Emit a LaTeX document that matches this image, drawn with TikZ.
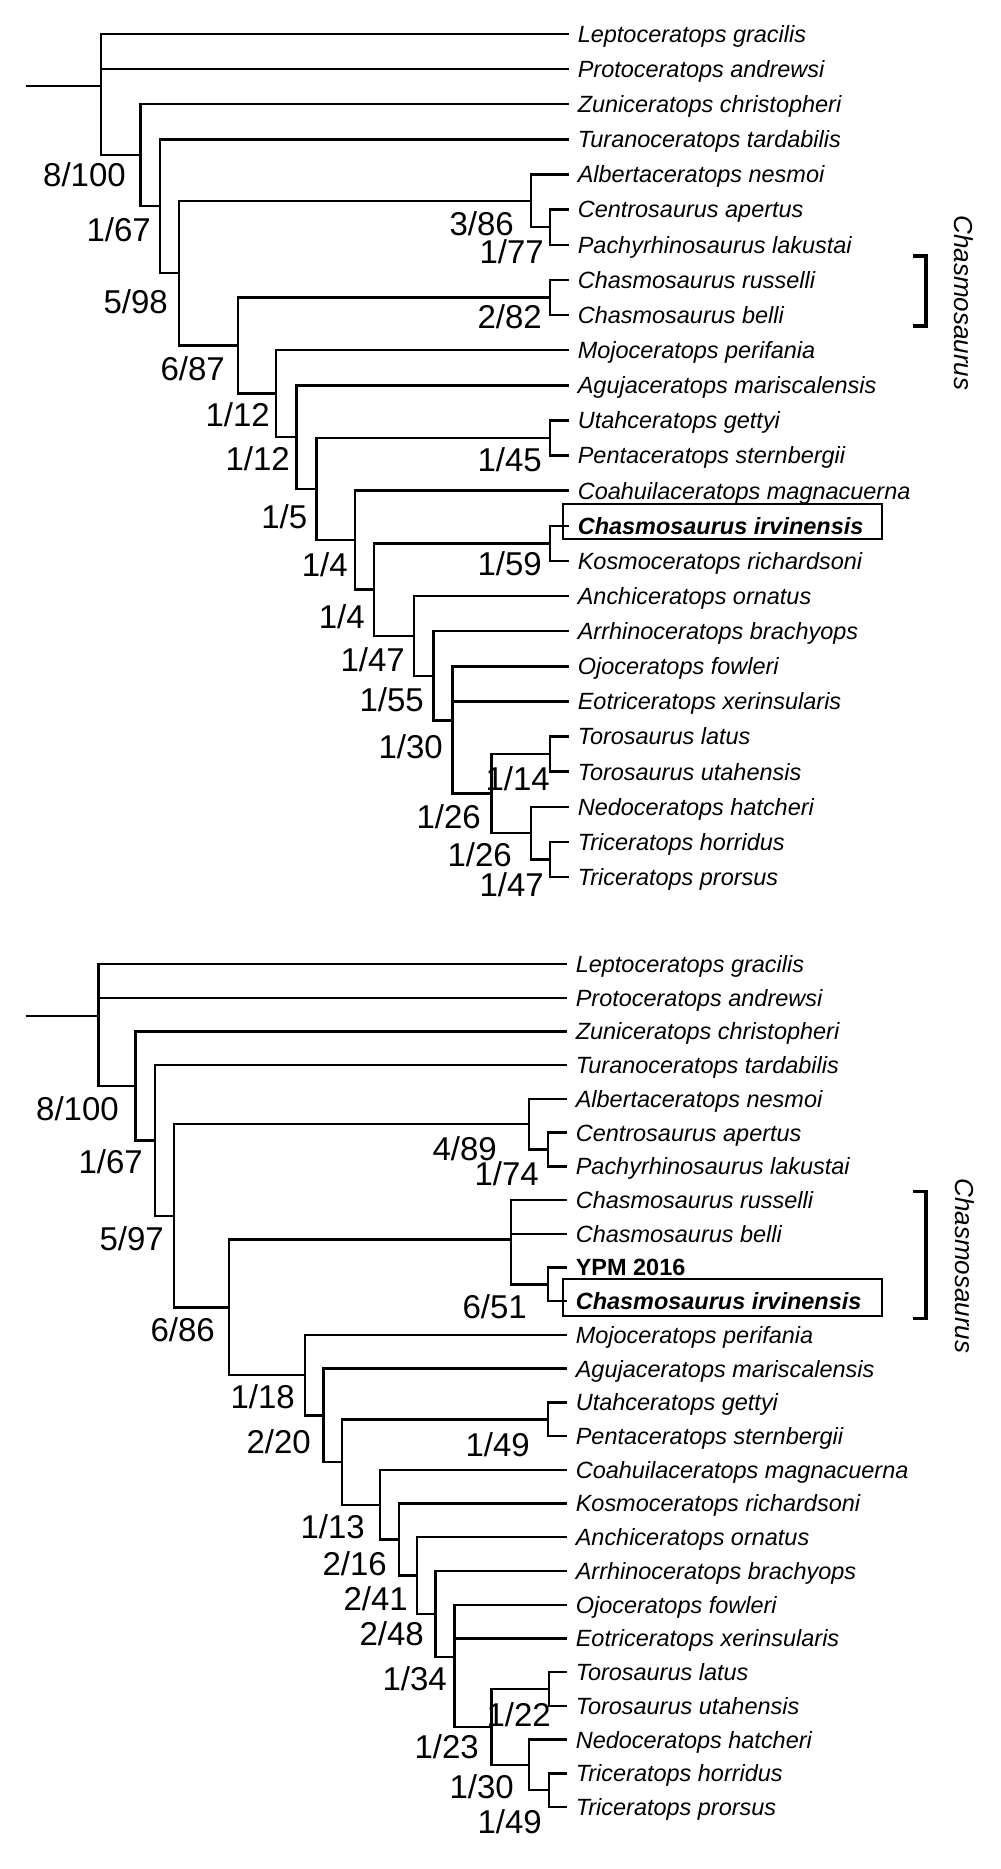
\documentclass[tikz,border=0pt]{standalone}
\usepackage{fontspec}
\setmainfont{Liberation Sans}
\usetikzlibrary{positioning}

\begin{document}
\begin{tikzpicture}[
    x=0.75pt, y=-0.75pt,
    branch/.style={line width=1.8pt},
    taxon/.style={anchor=west, inner xsep=6.4pt, inner ysep=0pt, text height=12.6pt, text depth=0pt, font=\fontsize{17.6}{20}\selectfont\itshape},
    taxonbold/.style={taxon, font=\fontsize{17.6}{20}\selectfont\bfseries\itshape},
    specimen/.style={taxon, font=\fontsize{17.6}{20}\selectfont\bfseries},
    support/.style={anchor=north east, inner sep=0pt, text height=17.7pt, text depth=0pt, font=\fontsize{24.75}{28}\selectfont},
    clade/.style={rotate=-90, inner sep=0pt, font=\fontsize{19.5}{22}\selectfont\itshape},
    bracket/.style={line width=2.4pt},
    hlbox/.style={line width=1.5pt}
]
\useasboundingbox (0,0) rectangle (1000,1869);

% upper tree
\node[taxon] (tLep) at (569,34) {Leptoceratops gracilis};
\node[taxon] (tPro) at (569,69.1) {Protoceratops andrewsi};
\node[taxon] (tZun) at (569,104.3) {Zuniceratops christopheri};
\node[taxon] (tTur) at (569,139.4) {Turanoceratops tardabilis};
\node[taxon] (tAlb) at (569,174.5) {Albertaceratops nesmoi};
\node[taxon] (tCen) at (569,209.6) {Centrosaurus apertus};
\node[taxon] (tPac) at (569,244.8) {Pachyrhinosaurus lakustai};
\node[taxon] (tRus) at (569,279.9) {Chasmosaurus russelli};
\node[taxon] (tBel) at (569,315) {Chasmosaurus belli};
\node[taxon] (tMoj) at (569,350.1) {Mojoceratops perifania};
\node[taxon] (tAgu) at (569,385.3) {Agujaceratops mariscalensis};
\node[taxon] (tUta) at (569,420.4) {Utahceratops gettyi};
\node[taxon] (tPen) at (569,455.5) {Pentaceratops sternbergii};
\node[taxon] (tCoa) at (569,490.6) {Coahuilaceratops magnacuerna};
\node[taxonbold] (tIrv) at (569,525.8) {Chasmosaurus irvinensis};
\node[taxon] (tKos) at (569,560.9) {Kosmoceratops richardsoni};
\node[taxon] (tAnc) at (569,596) {Anchiceratops ornatus};
\node[taxon] (tArr) at (569,631.1) {Arrhinoceratops brachyops};
\node[taxon] (tOjo) at (569,666.3) {Ojoceratops fowleri};
\node[taxon] (tEot) at (569,701.4) {Eotriceratops xerinsularis};
\node[taxon] (tTla) at (569,736.5) {Torosaurus latus};
\node[taxon] (tTut) at (569,771.6) {Torosaurus utahensis};
\node[taxon] (tNed) at (569,806.8) {Nedoceratops hatcheri};
\node[taxon] (tTho) at (569,841.9) {Triceratops horridus};
\node[taxon] (tTpr) at (569,877) {Triceratops prorsus};

\coordinate (tRoot) at (25.6,86.1);
\coordinate (tA) at (101.2,86.1);
\coordinate (tB) at (140.6,155.3);
\coordinate (tC) at (159.7,206.3);
\coordinate (tD) at (178.8,273.2);
\coordinate (tE) at (531,200.9);
\coordinate (tF) at (550,227.2);
\coordinate (tG) at (238,345.6);
\coordinate (tH) at (550,297.5);
\coordinate (tI) at (276,393.6);
\coordinate (tJ) at (296.4,437.2);
\coordinate (tK) at (316.3,489);
\coordinate (tUP) at (550,438);
\coordinate (tL) at (355,540.1);
\coordinate (tM) at (374,589.6);
\coordinate (tIK) at (550,543.3);
\coordinate (tN) at (413.7,635.9);
\coordinate (tO) at (433.5,675.8);
\coordinate (tP) at (452.6,720.4);
\coordinate (tQ) at (491.6,793.6);
\coordinate (tTT) at (550,754.1);
\coordinate (tR) at (531,833.1);
\coordinate (tTH) at (550,859.5);

\draw[branch] (tRoot) -- (tA);
\draw[branch] (tA) |- (tLep.west) (tA) |- (tPro.west) (tA) |- (tB);
\draw[branch] (tB) |- (tZun.west) (tB) |- (tC);
\draw[branch] (tC) |- (tTur.west) (tC) |- (tD);
\draw[branch] (tD) |- (tE) (tD) |- (tG);
\draw[branch] (tE) |- (tAlb.west) (tE) |- (tF);
\draw[branch] (tF) |- (tCen.west) (tF) |- (tPac.west);
\draw[branch] (tG) |- (tH) (tG) |- (tI);
\draw[branch] (tH) |- (tRus.west) (tH) |- (tBel.west);
\draw[branch] (tI) |- (tMoj.west) (tI) |- (tJ);
\draw[branch] (tJ) |- (tAgu.west) (tJ) |- (tK);
\draw[branch] (tK) |- (tUP) (tK) |- (tL);
\draw[branch] (tUP) |- (tUta.west) (tUP) |- (tPen.west);
\draw[branch] (tL) |- (tCoa.west) (tL) |- (tM);
\draw[branch] (tM) |- (tIK) (tM) |- (tN);
\draw[branch] (tIK) |- (tIrv.west) (tIK) |- (tKos.west);
\draw[branch] (tN) |- (tAnc.west) (tN) |- (tO);
\draw[branch] (tO) |- (tArr.west) (tO) |- (tP);
\draw[branch] (tP) |- (tOjo.west) (tP) |- (tEot.west) (tP) |- (tQ);
\draw[branch] (tQ) |- (tTT) (tQ) |- (tR);
\draw[branch] (tTT) |- (tTla.west) (tTT) |- (tTut.west);
\draw[branch] (tR) |- (tNed.west) (tR) |- (tTH);
\draw[branch] (tTH) |- (tTho.west) (tTH) |- (tTpr.west);

\node[support] (stB) at (126,163) {8/100};
\node[support] (stC) at (151,218) {1/67};
\node[support] (stD) at (168,290) {5/98};
\node[support] (stE) at (514,212) {3/86};
\node[support] (stF) at (544,240) {1/77};
\node[support] (stH) at (542,305) {2/82};
\node[support] (stG) at (225,357) {6/87};
\node[support] (stI) at (270,403) {1/12};
\node[support] (stJ) at (290,447) {1/12};
\node[support] (stUP) at (542,448) {1/45};
\node[support] (stK) at (307.5,505) {1/5};
\node[support] (stL) at (348,553) {1/4};
\node[support] (stIK) at (542,552) {1/59};
\node[support] (stM) at (365,605) {1/4};
\node[support] (stN) at (405,648) {1/47};
\node[support] (stO) at (424,688) {1/55};
\node[support] (stP) at (443,735) {1/30};
\node[support] (stTT) at (550,767) {1/14};
\node[support] (stQ) at (481,805) {1/26};
\node[support] (stR) at (512,843) {1/26};
\node[support] (stTH) at (544,873) {1/47};

\draw[hlbox] (563,504) rectangle (882,539);
\draw[bracket] (913,256) -- (926,256) -- (926,326) -- (913,326);
\node[clade] (tChas) at (964,303) {Chasmosaurus};

% lower tree
\node[taxon] (bLep) at (567,964) {Leptoceratops gracilis};
\node[taxon] (bPro) at (567,997.7) {Protoceratops andrewsi};
\node[taxon] (bZun) at (567,1031.4) {Zuniceratops christopheri};
\node[taxon] (bTur) at (567,1065.2) {Turanoceratops tardabilis};
\node[taxon] (bAlb) at (567,1098.9) {Albertaceratops nesmoi};
\node[taxon] (bCen) at (567,1132.6) {Centrosaurus apertus};
\node[taxon] (bPac) at (567,1166.3) {Pachyrhinosaurus lakustai};
\node[taxon] (bRus) at (567,1200) {Chasmosaurus russelli};
\node[taxon] (bBel) at (567,1233.8) {Chasmosaurus belli};
\node[specimen] (bYPM) at (567,1267.5) {YPM 2016};
\node[taxonbold] (bIrv) at (567,1301.2) {Chasmosaurus irvinensis};
\node[taxon] (bMoj) at (567,1334.9) {Mojoceratops perifania};
\node[taxon] (bAgu) at (567,1368.6) {Agujaceratops mariscalensis};
\node[taxon] (bUta) at (567,1402.4) {Utahceratops gettyi};
\node[taxon] (bPen) at (567,1436.1) {Pentaceratops sternbergii};
\node[taxon] (bCoa) at (567,1469.8) {Coahuilaceratops magnacuerna};
\node[taxon] (bKos) at (567,1503.5) {Kosmoceratops richardsoni};
\node[taxon] (bAnc) at (567,1537.2) {Anchiceratops ornatus};
\node[taxon] (bArr) at (567,1571) {Arrhinoceratops brachyops};
\node[taxon] (bOjo) at (567,1604.7) {Ojoceratops fowleri};
\node[taxon] (bEot) at (567,1638.4) {Eotriceratops xerinsularis};
\node[taxon] (bTla) at (567,1672.1) {Torosaurus latus};
\node[taxon] (bTut) at (567,1705.8) {Torosaurus utahensis};
\node[taxon] (bNed) at (567,1739.6) {Nedoceratops hatcheri};
\node[taxon] (bTho) at (567,1773.3) {Triceratops horridus};
\node[taxon] (bTpr) at (567,1807) {Triceratops prorsus};

\coordinate (bRoot) at (25.6,1015.9);
\coordinate (bA) at (98.5,1015.9);
\coordinate (bB) at (135.6,1085.9);
\coordinate (bC) at (154.7,1140.5);
\coordinate (bD) at (173.8,1215.7);
\coordinate (bE) at (529,1124.2);
\coordinate (bF) at (548,1149.5);
\coordinate (bG) at (229,1307.3);
\coordinate (bH) at (510.7,1239.4);
\coordinate (bHY) at (548,1284.4);
\coordinate (bI) at (304.8,1375.1);
\coordinate (bJ) at (323.5,1415.3);
\coordinate (bK) at (341.9,1462);
\coordinate (bUP) at (548,1419.3);
\coordinate (bL) at (380,1504.7);
\coordinate (bM) at (399,1539.5);
\coordinate (bN) at (417,1575.5);
\coordinate (bO) at (435.4,1613.9);
\coordinate (bP) at (454.5,1656.7);
\coordinate (bQ) at (491.6,1727);
\coordinate (bTT) at (549,1689);
\coordinate (bR) at (529,1764.9);
\coordinate (bTH) at (549,1790.2);

\draw[branch] (bRoot) -- (bA);
\draw[branch] (bA) |- (bLep.west) (bA) |- (bPro.west) (bA) |- (bB);
\draw[branch] (bB) |- (bZun.west) (bB) |- (bC);
\draw[branch] (bC) |- (bTur.west) (bC) |- (bD);
\draw[branch] (bD) |- (bE) (bD) |- (bG);
\draw[branch] (bE) |- (bAlb.west) (bE) |- (bF);
\draw[branch] (bF) |- (bCen.west) (bF) |- (bPac.west);
\draw[branch] (bG) |- (bH) (bG) |- (bI);
\draw[branch] (bH) |- (bRus.west) (bH) |- (bBel.west) (bH) |- (bHY);
\draw[branch] (bHY) |- (bYPM.west) (bHY) |- (bIrv.west);
\draw[branch] (bI) |- (bMoj.west) (bI) |- (bJ);
\draw[branch] (bJ) |- (bAgu.west) (bJ) |- (bK);
\draw[branch] (bK) |- (bUP) (bK) |- (bL);
\draw[branch] (bUP) |- (bUta.west) (bUP) |- (bPen.west);
\draw[branch] (bL) |- (bCoa.west) (bL) |- (bM);
\draw[branch] (bM) |- (bKos.west) (bM) |- (bN);
\draw[branch] (bN) |- (bAnc.west) (bN) |- (bO);
\draw[branch] (bO) |- (bArr.west) (bO) |- (bP);
\draw[branch] (bP) |- (bOjo.west) (bP) |- (bEot.west) (bP) |- (bQ);
\draw[branch] (bQ) |- (bTT) (bQ) |- (bR);
\draw[branch] (bTT) |- (bTla.west) (bTT) |- (bTut.west);
\draw[branch] (bR) |- (bNed.west) (bR) |- (bTH);
\draw[branch] (bTH) |- (bTho.west) (bTH) |- (bTpr.west);

\node[support] (sbB) at (119,1097) {8/100};
\node[support] (sbC) at (143,1150) {1/67};
\node[support] (sbD) at (164,1227) {5/97};
\node[support] (sbE) at (497,1137) {4/89};
\node[support] (sbF) at (539,1162) {1/74};
\node[support] (sbG) at (215,1318) {6/86};
\node[support] (sbHY) at (527,1295) {6/51};
\node[support] (sbI) at (295,1385) {1/18};
\node[support] (sbJ) at (311,1430) {2/20};
\node[support] (sbUP) at (530,1433) {1/49};
\node[support] (sbL) at (365,1515) {1/13};
\node[support] (sbM) at (387,1552) {2/16};
\node[support] (sbN) at (408,1587) {2/41};
\node[support] (sbO) at (424,1622) {2/48};
\node[support] (sbP) at (447,1667) {1/34};
\node[support] (sbTT) at (551,1703) {1/22};
\node[support] (sbQ) at (479,1735) {1/23};
\node[support] (sbR) at (514,1775) {1/30};
\node[support] (sbTH) at (542,1810) {1/49};

\draw[hlbox] (563,1279) rectangle (882,1316);
\draw[bracket] (913,1191.7) -- (926,1191.7) -- (926,1318.3) -- (913,1318.3);
\node[clade] (bChas) at (964.5,1266) {Chasmosaurus};

\end{tikzpicture}
\end{document}
